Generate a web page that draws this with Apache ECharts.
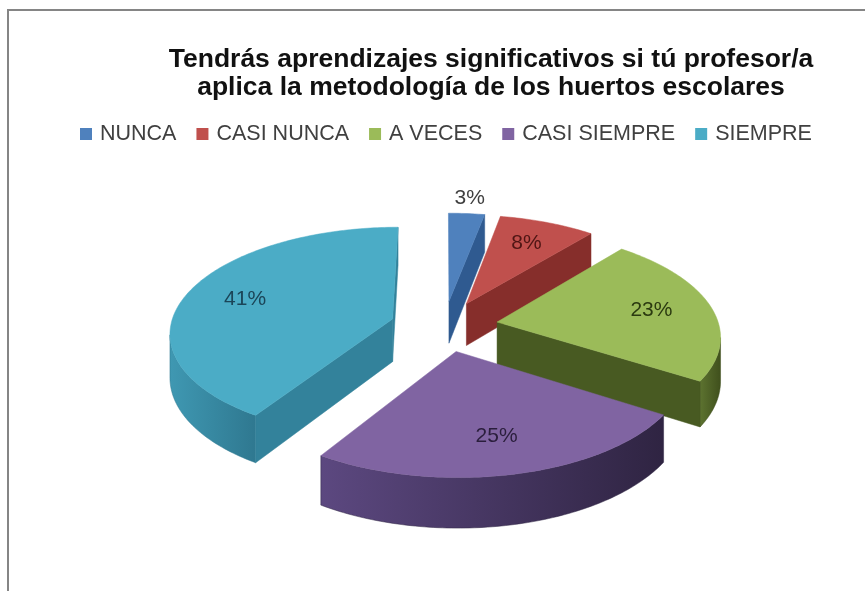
<!DOCTYPE html>
<html>
<head>
<meta charset="utf-8">
<script src="https://cdn.jsdelivr.net/npm/echarts@6/dist/echarts.min.js"></script>
<style>
html,body{margin:0;padding:0;background:#fff;}
#chart{width:865px;height:591px;}
</style>
</head>
<body>
<div id="chart"></div>
<script>
// ---- data ----
const categories = ['NUNCA', 'CASI NUNCA', 'A VECES', 'CASI SIEMPRE', 'SIEMPRE'];
const values = [3, 8, 23, 25, 41];
const titleLines = ['Tendrás aprendizajes significativos si tú profesor/a', 'aplica la metodología de los huertos escolares'];

// ---- style ----
const topColors = ['#4F81BD', '#C0504D', '#9BBB59', '#8064A2', '#4BACC6'];
const sideLight = ['#3f6fa8', '#9b3734', '#5d7330', '#5c4880', '#3f98b2'];
const sideDark  = ['#2c5386', '#7a2826', '#3f4f1c', '#2f2442', '#2f7890'];
const cutColors = ['#2f5a90', '#862e2b', '#485a22', '#3c2f58', '#33829b'];
const labelColors = ['#404040', '#4f1514', '#2b3a10', '#2a1e3c', '#1b4558'];

// geometry (layout parameters)
const CX = 444, CY = 326;   // pie center
const R = 222;              // radius (px)
const E = 54;               // explode distance
const A = 0.47;             // vertical squash (tilt)
const P = 0.12;             // perspective strength
const H = 43;               // thickness

const total = values.reduce((s, v) => s + v, 0);
const starts = [];
values.reduce((acc, v, i) => { starts[i] = acc; return acc + v; }, 0);

function proj(u, v, bottom) {
  const s = 1 / (1 + P * v / R);
  return [CX + u * s, CY - A * v * s + (bottom ? H * s : 0)];
}
function area(pts) {
  let a = 0;
  for (let i = 0; i < pts.length; i++) {
    const p = pts[i], q = pts[(i + 1) % pts.length];
    a += p[0] * q[1] - q[0] * p[1];
  }
  return a / 2;
}

function makeRender(idx) {
  return function (params, api) {
    const val = api.value(0);
    const start = api.value(1);
    const t1 = start / total * Math.PI * 2;
    const t2 = (start + val) / total * Math.PI * 2;
    const mid = (t1 + t2) / 2;
    const ou = E * Math.sin(mid), ov = E * Math.cos(mid);
    const pt = (th, r, b) => proj(ou + r * Math.sin(th), ov + r * Math.cos(th), b);
    const n = Math.max(4, Math.ceil((t2 - t1) / (Math.PI / 180)));
    const ths = [];
    for (let k = 0; k <= n; k++) ths.push(t1 + (t2 - t1) * k / n);

    const children = [];
    // outer curved side
    let first = -1, last = -1;
    for (let k = 0; k < n; k++) {
      const q = [pt(ths[k], R, 0), pt(ths[k + 1], R, 0), pt(ths[k + 1], R, 1), pt(ths[k], R, 1)];
      if (area(q) < 0) { if (first < 0) first = k; last = k + 1; }
    }
    if (first >= 0) {
      const poly = [];
      for (let k = first; k <= last; k++) poly.push(pt(ths[k], R, 0));
      for (let k = last; k >= first; k--) poly.push(pt(ths[k], R, 1));
      children.push({
        type: 'polygon', shape: { points: poly },
        style: {
          fill: new echarts.graphic.LinearGradient(0, 0, 1, 0, [
            { offset: 0, color: sideLight[idx] }, { offset: 1, color: sideDark[idx] }
          ]),
          stroke: sideDark[idx], lineWidth: 0.5
        }
      });
    }
    // radial cut faces
    const faces = [
      [[0, 0], [t1, R]],
      [[t2, R], [0, 0]]
    ];
    faces.forEach(f => {
      const P0 = f[0], Q0 = f[1];
      const q = [pt(P0[0], P0[1], 0), pt(Q0[0], Q0[1], 0), pt(Q0[0], Q0[1], 1), pt(P0[0], P0[1], 1)];
      if (area(q) < -50) {
        children.push({
          type: 'polygon', shape: { points: q },
          style: { fill: cutColors[idx], stroke: cutColors[idx], lineWidth: 0.5 }
        });
      }
    });
    // top face
    const top = [pt(0, 0, 0)];
    ths.forEach(th => top.push(pt(th, R, 0)));
    children.push({
      type: 'polygon', shape: { points: top },
      style: { fill: topColors[idx], stroke: topColors[idx], lineWidth: 0.5 }
    });
    // label
    const pct = Math.round(val / total * 100) + '%';
    const lr = (val / total < 0.05) ? R * 1.2 : R * 0.72;
    const lp = pt(mid, lr, 0);
    children.push({
      type: 'text', z2: 100,
      style: {
        x: lp[0], y: lp[1], text: pct, align: 'center', verticalAlign: 'middle',
        fill: labelColors[idx], font: '21px "Liberation Sans", Arial, sans-serif'
      }
    });
    return { type: 'group', children: children };
  };
}

// depth order: far slices first
const depth = values.map((v, i) => {
  const mid = (starts[i] + v / 2) / total * Math.PI * 2;
  return Math.cos(mid);
});
const order = depth.map((d, i) => i).sort((a, b) => depth[b] - depth[a]);

const series = categories.map((name, i) => ({
  type: 'custom',
  name: name,
  coordinateSystem: 'none',
  z: 2 + order.indexOf(i),
  itemStyle: { color: topColors[i] },
  renderItem: makeRender(i),
  data: [[values[i], starts[i]]],
  silent: true
}));

const chart = echarts.init(document.getElementById('chart'), null, { renderer: 'canvas' });
chart.setOption({
  backgroundColor: '#ffffff',
  animation: false,
  title: {
    text: titleLines.join('\n'),
    left: 491,
    top: 46,
    padding: 0,
    textAlign: 'center',
    textStyle: {
      fontFamily: '"Liberation Sans", Arial, sans-serif',
      fontWeight: 'bold', fontSize: 26.5, lineHeight: 28, color: '#111111'
    }
  },
  legend: {
    data: categories,
    left: 75,
    top: 118,
    icon: 'rect',
    itemWidth: 12,
    itemHeight: 12,
    itemGap: 20,
    selectedMode: false,
    textStyle: {
      fontFamily: '"Liberation Sans", Arial, sans-serif',
      fontSize: 21.5, color: '#404040', padding: [0, 0, 0, 3]
    }
  },
  graphic: [{
    type: 'rect', silent: true, z: 0,
    shape: { x: 8, y: 10, width: 900, height: 700 },
    style: { fill: 'none', stroke: '#858585', lineWidth: 2 }
  }],
  series: series
});
</script>
</body>
</html>
